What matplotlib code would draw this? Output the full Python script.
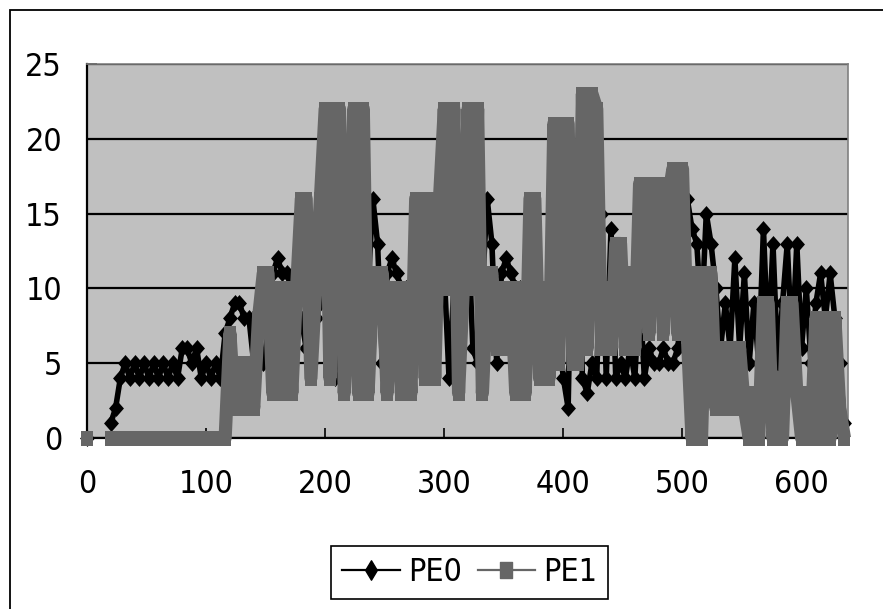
import matplotlib
matplotlib.use("Agg")
import matplotlib.pyplot as plt
import numpy as np

from matplotlib import font_manager
from matplotlib.lines import Line2D
from matplotlib.patches import Rectangle
from matplotlib.path import Path

nan = np.nan

# one sample every 4 time units; nan = empty cells in the sheet
time = np.arange(0, 640, 4)

pe0 = [
    0, nan, nan, nan, nan, 1, 2, 4, 5, 4,
    5, 4, 5, 4, 5, 4, 5, 4, 5, 4,
    6, 6, 5, 6, 4, 5, 4, 5, 4, 7,
    8, 9, 9, 8, 8, 5, 5, 5, 7, 11,
    12, 11, 11, 10, 9, 8, 6, 5, 8, 9,
    10, 11, 4, 10, 17, 15, 14, 10, 6, 10,
    16, 13, 5, 11, 12, 11, 10, 10, 7, 8,
    7, 6, 8, 9, 10, 11, 4, 10, 17, 15,
    14, 6, 5, 10, 16, 13, 5, 11, 12, 11,
    10, 10, 8, 7, 6, 6, 7, 9, 10, 7,
    4, 2, 18, 15, 4, 3, 5, 4, 15, 4,
    14, 4, 5, 4, 6, 4, 10, 4, 6, 5,
    5, 6, 5, 5, 6, 9, 16, 14, 13, 8,
    15, 13, 10, 6, 9, 6, 12, 6, 11, 5,
    9, 5, 14, 6, 13, 5, 9, 13, 6, 13,
    6, 10, 5, 9, 11, 8, 11, 8, 5, 1,
]

pe1 = [
    0, nan, nan, nan, nan, 0, 0, 0, 0, 0,
    0, 0, 0, 0, 0, 0, 0, 0, 0, 0,
    0, 0, 0, 0, 0, 0, 0, 0, 0, 0,
    7, 2, 5, 2, 5, 2, 8, 11, 11, 3,
    10, 3, 10, 3, 10, 16, 16, 4, 10, 16,
    22, 4, 22, 22, 3, 10, 22, 3, 22, 3,
    10, 11, 11, 3, 10, 10, 3, 10, 3, 16,
    16, 4, 16, 4, 16, 22, 10, 22, 3, 10,
    22, 10, 22, 3, 10, 11, 6, 10, 6, 10,
    3, 10, 3, 16, 16, 4, 10, 4, 21, 5,
    21, 21, 5, 5, 23, 6, 23, 22, 6, 10,
    6, 13, 13, 6, 11, 6, 17, 17, 7, 17,
    17, 7, 16, 18, 7, 18, 7, 0, 11, 0,
    11, 11, 2, 6, 2, 6, 2, 6, 2, 0,
    3, 0, 9, 9, 0, 4, 0, 9, 9, 3,
    0, 3, 0, 8, 0, 8, 0, 8, 2, 0,
]

x_ticks = [0, 100, 200, 300, 400, 500, 600]
y_ticks = [0, 5, 10, 15, 20, 25]
series_names = ["PE0", "PE1"]

W, H = 883, 609

# narrow face if one is installed, the old chart font is tall and thin
names = {f.name for f in font_manager.fontManager.ttflist}
narrow = [n for n in ["Liberation Sans Narrow", "DejaVu Sans Condensed"] if n in names]
plt.rcParams["font.family"] = narrow + ["DejaVu Sans"]
plt.rcParams["font.stretch"] = "condensed"

# the old picture is stretched upwards, so markers are taller than wide
tall_square = Path([(-0.37, -0.5), (0.37, -0.5), (0.37, 0.5), (-0.37, 0.5), (-0.37, -0.5)],
                   [Path.MOVETO, Path.LINETO, Path.LINETO, Path.LINETO, Path.CLOSEPOLY])
tall_diamond = Path([(0, -0.5), (0.44, 0), (0, 0.5), (-0.44, 0), (0, -0.5)],
                    [Path.MOVETO, Path.LINETO, Path.LINETO, Path.LINETO, Path.CLOSEPOLY])
legend_diamond = Path([(0, -0.5), (0.3, 0), (0, 0.5), (-0.3, 0), (0, -0.5)],
                      [Path.MOVETO, Path.LINETO, Path.LINETO, Path.LINETO, Path.CLOSEPOLY])

fig = plt.figure(figsize=(W / 100, H / 100), dpi=100)
fig.patch.set_facecolor("white")

# outer chart border (runs off the right and bottom of the crop)
fig.add_artist(Rectangle((10 / W, -1), 2, 1 + (1 - 10 / H), transform=fig.transFigure,
                         fill=False, edgecolor="black", linewidth=1.3))

ax = fig.add_axes([87 / W, 1 - 438 / H, (848 - 87) / W, (438 - 64) / H])
ax.set_facecolor("#c0c0c0")

ax.plot(time, pe0, color="black", linewidth=4, marker=tall_diamond, markersize=12.2,
        markeredgewidth=0, solid_joinstyle="round", clip_on=False, zorder=3)
ax.plot(time, pe1, color="#666666", linewidth=9.5, marker=tall_square, markersize=10.8,
        markeredgewidth=0, solid_joinstyle="round", solid_capstyle="butt",
        clip_on=False, zorder=4)

ax.set_xlim(0, 639)
ax.set_ylim(0, 25)
ax.set_xticks(x_ticks)
ax.set_yticks(y_ticks)
ax.yaxis.grid(True, color="black", linewidth=1.6)
ax.set_axisbelow(True)

for side in ["left", "bottom"]:
    ax.spines[side].set_color("black")
    ax.spines[side].set_linewidth(1.6)
for side in ["top", "right"]:
    ax.spines[side].set_color("#808080")
    ax.spines[side].set_linewidth(1.2)

ax.tick_params(axis="x", direction="in", length=7, width=1.2, pad=22, labelsize=23)
ax.tick_params(axis="y", direction="in", length=7, width=1.2, pad=18, labelsize=23)

handles = [
    Line2D([], [], color="black", linewidth=1.6, marker=legend_diamond, markersize=14),
    Line2D([], [], color="#666666", linewidth=1.6, marker=tall_square, markersize=11),
]
leg = fig.legend(handles, series_names, loc="upper left", bbox_to_anchor=(331 / W, 1 - 546 / H),
                 ncol=2, fontsize=23, frameon=True, fancybox=False, framealpha=1,
                 edgecolor="black", borderpad=0.35, handlelength=1.8, handletextpad=0.25,
                 columnspacing=0.5, borderaxespad=0)
leg.get_frame().set_linewidth(1.2)

fig.savefig("out.png", dpi=100)
